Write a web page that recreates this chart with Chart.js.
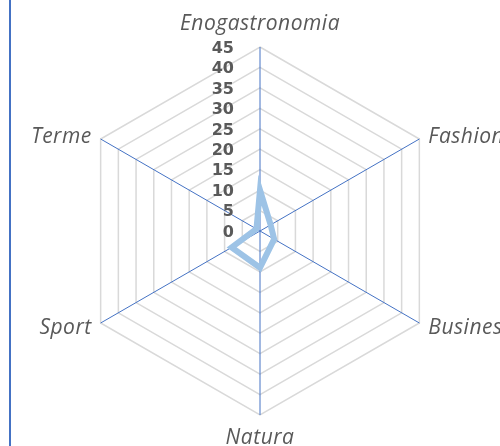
<!DOCTYPE html>
<html>
<head>
<meta charset="utf-8">
<script src="https://cdn.jsdelivr.net/npm/chart.js@4/dist/chart.umd.min.js"></script>
<style>
  html, body { margin: 0; padding: 0; background: #ffffff; overflow: hidden; }
  #wrap { position: relative; width: 500px; height: 446px; }
  #frameLine { position: absolute; left: 9px; top: 0; width: 2px; height: 446px; background: #4472c4; }
  canvas { position: absolute; left: 0; top: 0; }
</style>
</head>
<body>
<div id="wrap">
  <canvas id="c" width="500" height="446"></canvas>
  <div id="frameLine"></div>
</div>
<script>
const categories = ["Enogastronomia", "Fashion", "Business", "Natura", "Sport", "Terme"];
const seriesValues = [10, 3, 4, 9, 8, 1];
const tickValues = [0, 5, 10, 15, 20, 25, 30, 35, 40, 45];

const labelColor = '#595959';

const customLabels = {
  id: 'customLabels',
  afterDraw(chart) {
    const scale = chart.scales.r;
    const ctx = chart.ctx;
    ctx.save();
    // tick labels, right-aligned left of the vertical axis
    ctx.font = 'bold 16px "DejaVu Sans"';
    ctx.fillStyle = labelColor;
    ctx.textAlign = 'right';
    ctx.textBaseline = 'alphabetic';
    tickValues.forEach(v => {
      const d = scale.getDistanceFromCenterForValue(v);
      ctx.fillText(String(v), scale.xCenter - 26, scale.yCenter - d + 5.8);
    });
    // point labels
    ctx.font = 'italic 21px "Open Sans"';
    if ('letterSpacing' in ctx) ctx.letterSpacing = '0.5px';
    categories.forEach((lab, i) => {
      const p = scale.getPointPosition(i, scale.drawingArea);
      const dx = p.x - scale.xCenter;
      const dy = p.y - scale.yCenter;
      let x = p.x, y;
      if (Math.abs(dx) < 1) {
        ctx.textAlign = 'center';
        y = dy < 0 ? p.y - 17 : p.y + 29;
      } else {
        ctx.textAlign = dx > 0 ? 'left' : 'right';
        x = p.x + (dx > 0 ? 9 : -9);
        y = p.y + (dy < 0 ? 3.5 : 10.5);
      }
      ctx.fillText(lab, x, y);
    });
    ctx.restore();
  }
};

new Chart(document.getElementById('c'), {
  type: 'radar',
  data: {
    labels: categories,
    datasets: [{
      data: seriesValues,
      borderColor: '#9dc3e6',
      borderWidth: 6,
      fill: false,
      pointRadius: 0,
      pointHoverRadius: 0,
      tension: 0
    }]
  },
  options: {
    responsive: false,
    animation: false,
    devicePixelRatio: 1,
    layout: { padding: { left: 76, right: 56, top: 47, bottom: 31 } },
    plugins: { legend: { display: false }, tooltip: { enabled: false } },
    scales: {
      r: {
        min: 0,
        max: 45,
        ticks: { display: false, stepSize: 5 },
        pointLabels: { display: false },
        grid: { color: '#d9d9d9', lineWidth: 1.5 },
        angleLines: { color: '#4472c4', lineWidth: 1 }
      }
    }
  },
  plugins: [customLabels]
});
</script>
</body>
</html>
